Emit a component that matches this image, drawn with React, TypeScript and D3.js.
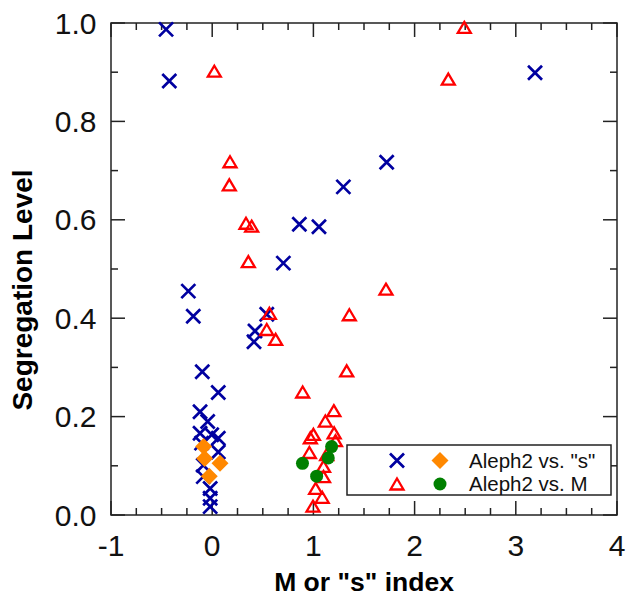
import { useEffect, useRef } from 'react'
import * as d3 from 'd3'

// Aleph2 vs. "s" index
const sCrosses: [number, number][] = [
  [-0.456, 0.987], [-0.424, 0.882], [0.861, 0.591], [1.055, 0.586], [1.296, 0.667],
  [0.703, 0.512], [1.724, 0.717], [3.19, 0.899], [-0.236, 0.455], [-0.187, 0.404],
  [0.539, 0.408], [0.423, 0.374], [0.413, 0.352], [-0.098, 0.291], [0.06, 0.249],
  [-0.12, 0.21], [-0.045, 0.19], [-0.12, 0.166], [-0.005, 0.163], [0.06, 0.156],
  [-0.105, 0.146], [0.06, 0.128], [-0.088, 0.101], [-0.088, 0.078], [-0.02, 0.054],
  [-0.02, 0.034], [-0.02, 0.017],
]
const sDiamonds: [number, number][] = [
  [-0.085, 0.139], [-0.075, 0.115], [0.077, 0.105], [-0.029, 0.079],
]

// Aleph2 vs. M index
const mTriangles: [number, number][] = [
  [0.021, 0.902], [2.491, 0.991], [2.333, 0.886], [0.176, 0.718], [0.169, 0.671],
  [0.334, 0.593], [0.39, 0.587], [0.357, 0.515], [0.565, 0.41], [0.539, 0.377],
  [0.627, 0.357], [1.355, 0.407], [1.717, 0.459], [1.329, 0.293], [0.894, 0.25],
  [1.202, 0.212], [1.118, 0.191], [1.0, 0.164], [0.97, 0.157], [1.205, 0.167],
  [1.218, 0.151], [0.96, 0.127], [1.131, 0.123], [1.1, 0.099], [1.1, 0.078],
  [1.022, 0.054], [1.087, 0.036], [0.996, 0.018],
]
const mCircles: [number, number][] = [
  [0.892, 0.105], [1.032, 0.079], [1.147, 0.116], [1.18, 0.139],
]

const xTicks = [-1, 0, 1, 2, 3, 4]
const yTicks = [0, 0.2, 0.4, 0.6, 0.8, 1.0]
const legendRows = ['Aleph2 vs. "s"', 'Aleph2 vs. M']

const BLUE = '#0000a0'
const RED = '#ff0000'
const ORANGE = '#ff8800'
const GREEN = '#008000'
const FONT = '"Liberation Sans", Arial, Helvetica, sans-serif'

function App() {
  const svgRef = useRef<SVGSVGElement | null>(null)

  useEffect(() => {
    if (!svgRef.current) return
    const svg = d3.select(svgRef.current)
    svg.selectAll('*').remove()

    const left = 111, right = 617, top = 23, bottom = 515

    const x = d3.scaleLinear().domain([-1, 4]).range([left, right])
    const y = d3.scaleLinear().domain([0, 1]).range([bottom, top])

    const axisColor = '#222'

    // frame
    svg.append('rect')
      .attr('x', left).attr('y', top)
      .attr('width', right - left).attr('height', bottom - top)
      .attr('fill', 'none').attr('stroke', axisColor).attr('stroke-width', 1.5)

    // ticks on all four sides, pointing in
    const xMinor = d3.range(-1, 4.001, 0.25)
    const yMinor = d3.range(0, 1.001, 0.1)
    const ticks = svg.append('g').attr('stroke', axisColor).attr('stroke-width', 1.5)
    xMinor.forEach(v => {
      const len = Math.abs(v - Math.round(v)) < 1e-6 ? 14 : 7
      ticks.append('line').attr('x1', x(v)).attr('x2', x(v)).attr('y1', bottom).attr('y2', bottom - len)
      ticks.append('line').attr('x1', x(v)).attr('x2', x(v)).attr('y1', top).attr('y2', top + len)
    })
    yMinor.forEach((v, i) => {
      const len = i % 2 === 0 ? 14 : 7
      ticks.append('line').attr('y1', y(v)).attr('y2', y(v)).attr('x1', left).attr('x2', left + len)
      ticks.append('line').attr('y1', y(v)).attr('y2', y(v)).attr('x1', right).attr('x2', right - len)
    })

    // tick labels
    svg.append('g').selectAll('text')
      .data(yTicks)
      .enter().append('text')
      .attr('x', 96.5).attr('y', d => y(d) + 10.5)
      .attr('text-anchor', 'end')
      .style('font-family', FONT).style('font-size', '30px').style('fill', '#111')
      .text(d => d3.format('.1f')(d))

    svg.append('g').selectAll('text')
      .data(xTicks)
      .enter().append('text')
      .attr('x', d => x(d)).attr('y', 556)
      .attr('text-anchor', 'middle')
      .style('font-family', FONT).style('font-size', '30px').style('fill', '#111')
      .text(d => String(d))

    // axis titles
    svg.append('text')
      .attr('x', (left + right) / 2).attr('y', 591)
      .attr('text-anchor', 'middle')
      .style('font-family', FONT).style('font-size', '26.5px').style('font-weight', 'bold')
      .text('M or "s" index')

    svg.append('text')
      .attr('transform', 'translate(32,290) rotate(-90)')
      .attr('text-anchor', 'middle')
      .style('font-family', FONT).style('font-size', '28px').style('font-weight', 'bold')
      .text('Segregation Level')

    // marker shapes
    const crossPath = 'M-7,-7L7,7M-7,7L7,-7'
    const triPath = 'M0,-5.5L6.5,5.5L-6.5,5.5Z'
    const diamondPath = 'M0,-8.5L8.5,0L0,8.5L-8.5,0Z'

    const plot = svg.append('g')

    plot.selectAll('.cross')
      .data(sCrosses)
      .enter().append('path')
      .attr('class', 'cross')
      .attr('transform', d => `translate(${x(d[0])},${y(d[1])})`)
      .attr('d', crossPath)
      .attr('fill', 'none').attr('stroke', BLUE).attr('stroke-width', 2.7)

    plot.selectAll('.tri')
      .data(mTriangles)
      .enter().append('path')
      .attr('class', 'tri')
      .attr('transform', d => `translate(${x(d[0])},${y(d[1])})`)
      .attr('d', triPath)
      .attr('fill', 'none').attr('stroke', RED).attr('stroke-width', 2.3)

    plot.selectAll('.diamond')
      .data(sDiamonds)
      .enter().append('path')
      .attr('class', 'diamond')
      .attr('transform', d => `translate(${x(d[0])},${y(d[1])})`)
      .attr('d', diamondPath)
      .attr('fill', ORANGE)

    plot.selectAll('.dot')
      .data(mCircles)
      .enter().append('circle')
      .attr('class', 'dot')
      .attr('cx', d => x(d[0])).attr('cy', d => y(d[1]))
      .attr('r', 6.5)
      .attr('fill', GREEN)

    // legend
    const legend = svg.append('g')
    legend.append('rect')
      .attr('x', 347).attr('y', 445).attr('width', 264).attr('height', 50)
      .attr('fill', '#fff').attr('stroke', axisColor).attr('stroke-width', 1.5)

    const rowY = [460.5, 484]
    legend.append('path')
      .attr('transform', `translate(397,${rowY[0]})`)
      .attr('d', crossPath)
      .attr('fill', 'none').attr('stroke', BLUE).attr('stroke-width', 2.7)
    legend.append('path')
      .attr('transform', `translate(440,${rowY[0]})`)
      .attr('d', diamondPath)
      .attr('fill', ORANGE)
    legend.append('path')
      .attr('transform', `translate(397,${rowY[1]})`)
      .attr('d', triPath)
      .attr('fill', 'none').attr('stroke', RED).attr('stroke-width', 2.3)
    legend.append('circle')
      .attr('cx', 440).attr('cy', rowY[1]).attr('r', 6.5)
      .attr('fill', GREEN)

    legendRows.forEach((label, i) => {
      legend.append('text')
        .attr('x', 469).attr('y', rowY[i] + 7)
        .style('font-family', FONT).style('font-size', '20.5px').style('fill', '#111')
        .text(label)
    })
  }, [])

  return (
    <svg
      ref={svgRef}
      width={627}
      height={602}
      style={{ position: 'absolute', left: 0, top: 0, background: '#fff' }}
    />
  )
}

export default App
